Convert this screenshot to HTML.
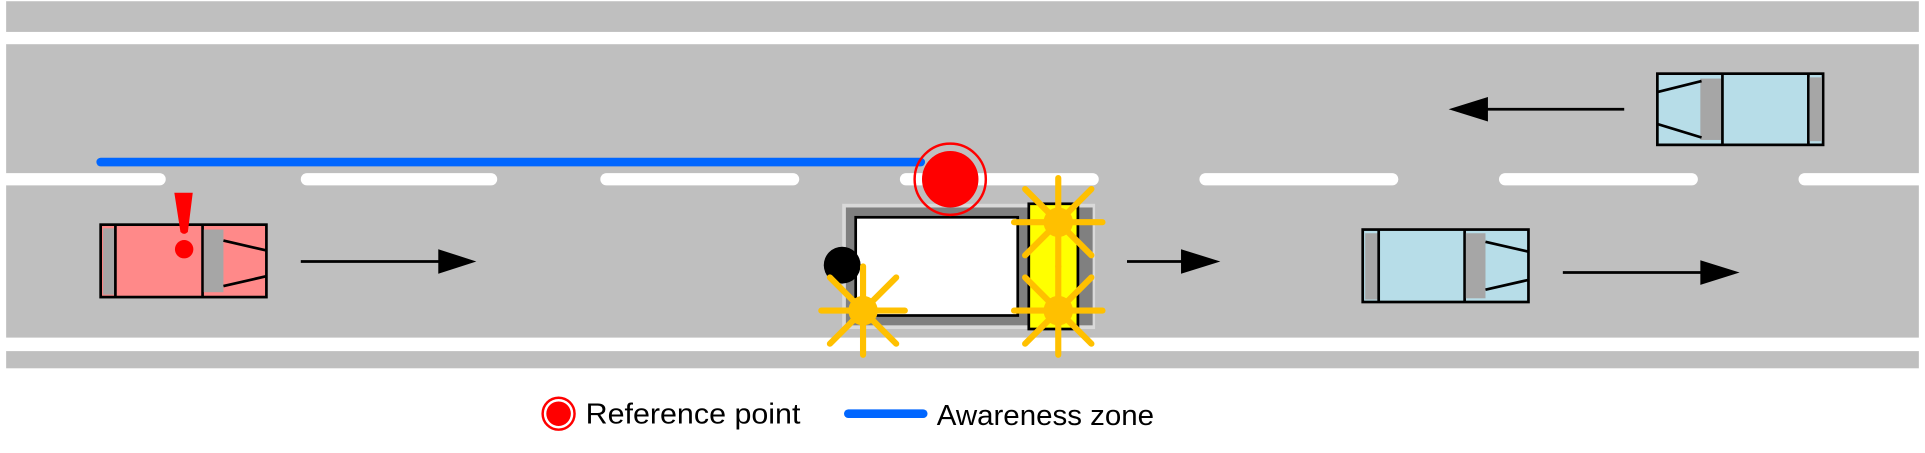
<!DOCTYPE html>
<html><head><meta charset="utf-8"><style>html,body{margin:0;padding:0;background:#fff}svg{display:block}</style></head>
<body>
<svg width="1925" height="453" viewBox="0 0 1568 369" preserveAspectRatio="none" xmlns="http://www.w3.org/2000/svg">
<rect x="0" y="0" width="1568" height="369" fill="#fff"/>
<rect x="5" y="1" width="1558" height="25" fill="#bfbfbf"/>
<rect x="5" y="36" width="1558" height="239" fill="#bfbfbf"/>
<rect x="5" y="286" width="1558" height="14" fill="#bfbfbf"/>
<g stroke="#fff" stroke-width="10" stroke-linecap="round">
<line x1="5" y1="146" x2="130" y2="146"/>
<line x1="250" y1="146" x2="400" y2="146"/>
<line x1="494" y1="146" x2="646" y2="146"/>
<line x1="738" y1="146" x2="890" y2="146"/>
<line x1="982" y1="146" x2="1134" y2="146"/>
<line x1="1226" y1="146" x2="1378" y2="146"/>
<line x1="1470" y1="146" x2="1563" y2="146"/>
</g>
<line x1="82" y1="132" x2="750" y2="132" stroke="#0066ff" stroke-width="7" stroke-linecap="round"/>
<!-- red car -->
<rect x="82" y="183" width="135" height="59" fill="#ff8989" stroke="#000" stroke-width="2.2"/>
<rect x="84" y="186" width="10" height="54" fill="#a6a6a6"/>
<line x1="94" y1="183" x2="94" y2="242" stroke="#000" stroke-width="2.2"/>
<line x1="165" y1="183" x2="165" y2="242" stroke="#000" stroke-width="2.2"/>
<rect x="166" y="187" width="16" height="51" fill="#a6a6a6"/>
<line x1="182" y1="196" x2="217" y2="204" stroke="#000" stroke-width="2.2"/>
<line x1="182" y1="233" x2="217" y2="225" stroke="#000" stroke-width="2.2"/>
<path d="M142,157 L157,157 L153,189 Q150,192 147,189 Z" fill="#f00"/>
<circle cx="150" cy="203" r="7.5" fill="#f00"/>
<line x1="245" y1="213" x2="360" y2="213" stroke="#000" stroke-width="2.2"/>
<polygon points="357,203 388,213 357,223" fill="#000"/>
<!-- central car -->
<rect x="686" y="166" width="206" height="102" fill="#d9d9d9"/>
<rect x="689" y="169" width="201" height="96" fill="#808080"/>
<rect x="697" y="177" width="132" height="80" fill="#fff" stroke="#000" stroke-width="2.2"/>
<rect x="838" y="166" width="40" height="102" fill="#ffff00" stroke="#000" stroke-width="2.2"/>
<circle cx="686" cy="216" r="15" fill="#000"/>
<g stroke="#ffc000" stroke-width="5" stroke-linecap="round" fill="#ffc000">
<g transform="translate(703,253)"><line x1="0" y1="-36" x2="0" y2="36"/><line x1="-34" y1="0" x2="34" y2="0"/><line x1="-27" y1="-27" x2="27" y2="27"/><line x1="-27" y1="27" x2="27" y2="-27"/><circle r="12" stroke="none"/></g>
<g transform="translate(862,181)"><line x1="0" y1="-36" x2="0" y2="36"/><line x1="-36" y1="0" x2="36" y2="0"/><line x1="-27" y1="-27" x2="27" y2="27"/><line x1="-27" y1="27" x2="27" y2="-27"/><circle r="12" stroke="none"/></g>
<g transform="translate(862,253)"><line x1="0" y1="-36" x2="0" y2="36"/><line x1="-36" y1="0" x2="36" y2="0"/><line x1="-27" y1="-27" x2="27" y2="27"/><line x1="-27" y1="27" x2="27" y2="-27"/><circle r="12" stroke="none"/></g>
</g>
<circle cx="774" cy="146" r="29" fill="none" stroke="#f00" stroke-width="2"/>
<circle cx="774" cy="146" r="23" fill="#f00"/>
<line x1="918" y1="213" x2="964" y2="213" stroke="#000" stroke-width="2.2"/>
<polygon points="962,203 994,213 962,223" fill="#000"/>
<!-- lower blue car -->
<rect x="1110" y="187" width="135" height="59" fill="#b7dde8" stroke="#000" stroke-width="2.2"/>
<rect x="1112" y="190" width="10" height="54" fill="#a6a6a6"/>
<line x1="1123" y1="187" x2="1123" y2="246" stroke="#000" stroke-width="2.2"/>
<line x1="1193" y1="187" x2="1193" y2="246" stroke="#000" stroke-width="2.2"/>
<rect x="1194" y="190" width="16" height="53" fill="#a6a6a6"/>
<line x1="1210" y1="197" x2="1245" y2="205" stroke="#000" stroke-width="2.2"/>
<line x1="1210" y1="236" x2="1245" y2="228" stroke="#000" stroke-width="2.2"/>
<line x1="1273" y1="222" x2="1388" y2="222" stroke="#000" stroke-width="2.2"/>
<polygon points="1385,212 1417,222 1385,232" fill="#000"/>
<!-- upper blue car -->
<rect x="1350" y="60" width="135" height="58" fill="#b7dde8" stroke="#000" stroke-width="2.2"/>
<rect x="1385" y="64" width="17" height="50" fill="#a6a6a6"/>
<line x1="1350" y1="75" x2="1386" y2="66" stroke="#000" stroke-width="2.2"/>
<line x1="1350" y1="101" x2="1386" y2="112" stroke="#000" stroke-width="2.2"/>
<line x1="1403" y1="60" x2="1403" y2="118" stroke="#000" stroke-width="2.2"/>
<line x1="1473" y1="60" x2="1473" y2="118" stroke="#000" stroke-width="2.2"/>
<rect x="1474" y="63" width="10" height="52" fill="#a6a6a6"/>
<line x1="1210" y1="89" x2="1323" y2="89" stroke="#000" stroke-width="2.2"/>
<polygon points="1212,79 1180,89 1212,99" fill="#000"/>
<!-- legend -->
<circle cx="455" cy="337" r="13" fill="none" stroke="#f00" stroke-width="2"/>
<circle cx="455" cy="337" r="10" fill="#f00"/>
<text x="477" y="345" font-family="Liberation Sans, sans-serif" font-size="23" textLength="175" lengthAdjust="spacingAndGlyphs" fill="#000">Reference point</text>
<line x1="691" y1="337" x2="752" y2="337" stroke="#0066ff" stroke-width="7" stroke-linecap="round"/>
<text x="763" y="346" font-family="Liberation Sans, sans-serif" font-size="23" textLength="177" lengthAdjust="spacingAndGlyphs" fill="#000">Awareness zone</text>
</svg>
</body></html>
